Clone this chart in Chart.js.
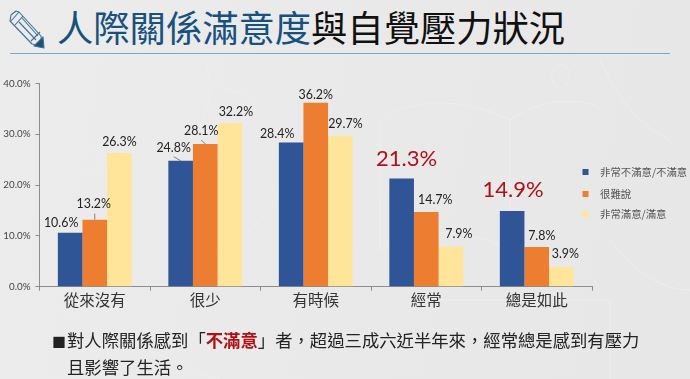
<!DOCTYPE html>
<html lang="zh-Hant">
<head>
<meta charset="utf-8">
<title>人際關係滿意度與自覺壓力狀況</title>
<script src="https://cdn.jsdelivr.net/npm/chart.js@4/dist/chart.umd.min.js"></script>
<style>
    html, body { margin: 0; padding: 0; }
    body {
        width: 690px; height: 379px; overflow: hidden; position: relative;
        background: linear-gradient(100deg, #ececed 0%, #e9e9ea 55%, #e7e7e8 100%);
        font-family: "Noto Sans CJK TC", sans-serif;
    }
    #bg, #pencil, #myChart { position: absolute; left: 0; top: 0; }
    .title {
        position: absolute; left: 57px; top: 1px; font-size: 36.3px; line-height: 50px;
        white-space: nowrap; color: #111;
    }
    .title span { color: #17517e; }
    .rule { position: absolute; left: 10px; top: 53px; width: 660px; height: 1px; background: #7ba9cc; }
    .note {
        position: absolute; left: 52px; top: 327px; font-size: 17.35px; line-height: 26px;
        color: #222; white-space: nowrap;
    }
    .note b { color: #b01116; }
    .note i { display: inline-block; width: 15px; font-style: normal; font-size: 14px; vertical-align: 0; }
</style>
</head>
<body>
<svg id="bg" width="690" height="379" fill="none" stroke="#eeeeef" stroke-width="1">
    <path d="M150 60c40 30 110 20 130 70s-20 110-70 120"/>
    <path d="M205 60c10 30 5 60 -20 90"/>
    <path d="M380 120c40-25 90-20 130 0v130c-40-20-90-25-130 0z"/>
    <path d="M510 120c30-20 60-22 85-15"/>
    <path d="M600 60c15 30 30 60 70 80"/>
    <path d="M560 90c-12-8-10-22 0-26 12 2 14 18 0 26z"/>
    <path d="M610 240c30 40 60 50 80 50"/>
    <path d="M60 310c60 20 120 60 160 69"/>
    <path d="M420 300h190v79"/>
    <circle cx="90" cy="160" r="14"/>
</svg>
<svg id="pencil" width="60" height="60" fill="none" stroke="#3f7198" stroke-width="1.1" stroke-linejoin="round">
    <path d="M11 15l5-4 3 1 22 24 1 10-10-2-22-23z" />
    <path d="M11 21l8-9M15 25l8-9M31 41l9-9M19 22l17 18M22 18l16 18"/>
    <path d="M34 46l9-9 1 11z" fill="#17517e"/>
</svg>
<div class="title"><span>人際關係滿意度</span>與自覺壓力狀況</div>
<div class="rule"></div>
<canvas id="myChart" width="690" height="379"></canvas>
<div class="note"><i>■</i>對人際關係感到「<b>不滿意</b>」者，超過三成六近半年來，經常總是感到有壓力<br><span style="margin-left:15px">且影響了生活。</span></div>

<script>
const categories = ["從來沒有", "很少", "有時候", "經常", "總是如此"];
const seriesNames = ["非常不滿意/不滿意", "很難說", "非常滿意/滿意"];
const unsatisfied = [10.6, 24.8, 28.4, 21.3, 14.9];
const neutral = [13.2, 28.1, 36.2, 14.7, 7.8];
const satisfied = [26.3, 32.2, 29.7, 7.9, 3.9];
const yTicks = [0, 10, 20, 30, 40];

// 標籤位置微調 [dx, dy]，相對於長條頂端中央
const nudgeUnsatisfied = [[-9, -10], [-7, -13], [-14, -8], [5, -20], [1, -21]];
const nudgeNeutral = [[-1, -16], [-4, -13], [0, -8], [9, -12], [5, -11]];
const nudgeSatisfied = [[0, -11], [6, -11], [5, -12], [8, -12.6], [4, -13]];
const nudges = [nudgeUnsatisfied, nudgeNeutral, nudgeSatisfied];
// 引導線 [series, index, dx, dy]
const leaders = [[1, 0, 0, -6], [0, 1, -7, -4], [1, 1, -4, -4]];
const legendRowsY = [172, 194, 214];

const barLabels = {
    id: "barLabels",
    afterDatasetsDraw(chart) {
        const ctx = chart.ctx;
        ctx.save();
        ctx.textAlign = "center";
        ctx.textBaseline = "middle";
        chart.data.datasets.forEach((ds, s) => {
            chart.getDatasetMeta(s).data.forEach((bar, i) => {
                // 不滿意的後兩組用紅色大字
                const big = s === 0 && i >= 3;
                ctx.font = (big ? "22px" : "12.4px") + ' Lato, sans-serif';
                ctx.fillStyle = big ? "#b01116" : "#222";
                ctx.fillText(ds.data[i].toFixed(1) + "%", bar.x + nudges[s][i][0], bar.y + nudges[s][i][1]);
            });
        });
        ctx.strokeStyle = "#555";
        ctx.lineWidth = 0.7;
        leaders.forEach(([s, i, dx, dy]) => {
            const bar = chart.getDatasetMeta(s).data[i];
            ctx.beginPath();
            ctx.moveTo(bar.x, bar.y);
            ctx.lineTo(bar.x + dx, bar.y + dy);
            ctx.stroke();
        });
        ctx.restore();
    }
};

const sideLegend = {
    id: "sideLegend",
    afterDraw(chart) {
        const ctx = chart.ctx;
        ctx.save();
        ctx.textBaseline = "middle";
        ctx.font = '10.4px "Noto Sans CJK TC", sans-serif';
        chart.data.datasets.forEach((ds, s) => {
            const y = legendRowsY[s];
            ctx.fillStyle = ds.backgroundColor;
            ctx.fillRect(582.5, y - 3, 6, 6);
            ctx.fillStyle = "#555";
            ctx.fillText(ds.label, 600, y);
        });
        ctx.restore();
    }
};

new Chart(document.getElementById("myChart"), {
    type: "bar",
    data: {
        labels: categories,
        datasets: [
            { label: seriesNames[0], data: unsatisfied, backgroundColor: "#2f5597" },
            { label: seriesNames[1], data: neutral, backgroundColor: "#ed7d31" },
            { label: seriesNames[2], data: satisfied, backgroundColor: "#fee599" }
        ]
    },
    options: {
        responsive: false,
        animation: false,
        layout: { padding: { top: 83.5, right: 98, bottom: 0, left: 0 } },
        datasets: { bar: { barPercentage: 1, categoryPercentage: 0.668, borderWidth: 0 } },
        plugins: { legend: { display: false }, tooltip: { enabled: false } },
        scales: {
            x: {
                afterFit(scale) { scale.height = 92.3; },
                grid: { drawOnChartArea: false, tickLength: 4, color: "#8c8c8c" },
                border: { color: "#8c8c8c" },
                ticks: { color: "#333", padding: 0, maxRotation: 0, font: { family: '"Noto Sans CJK TC"', size: 15.5 } }
            },
            y: {
                min: 0,
                max: 40,
                afterFit(scale) { scale.width = 39.5; },
                afterBuildTicks(scale) { scale.ticks = yTicks.map(v => ({ value: v })); },
                grid: { drawOnChartArea: false, tickLength: 4, color: "#8c8c8c" },
                border: { color: "#8c8c8c" },
                ticks: {
                    color: "#444",
                    padding: 5,
                    font: { family: 'Lato', size: 9.8 },
                    callback: v => v.toFixed(1) + "%"
                }
            }
        }
    },
    plugins: [barLabels, sideLegend]
});
</script>
</body>
</html>
